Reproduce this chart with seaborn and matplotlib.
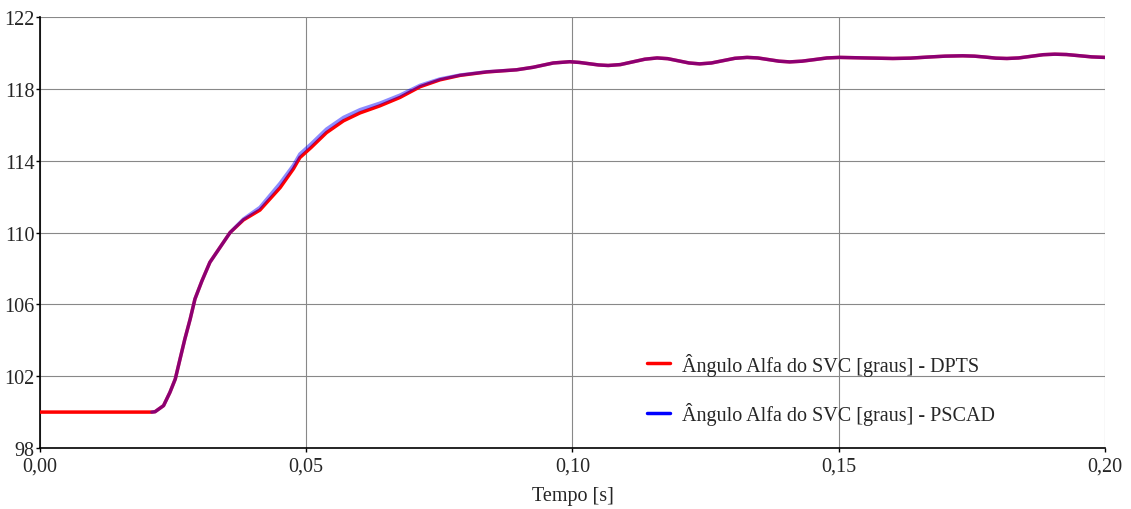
import numpy as np
import pandas as pd
import seaborn as sns
import matplotlib.pyplot as plt

# Data (time in s, angle in degrees)
t_pscad = [0.0210, 0.0216, 0.0232, 0.0244, 0.0254, 0.0263, 0.0272, 0.0282, 0.0291,
           0.0304, 0.0319, 0.0338, 0.0357, 0.0382, 0.0413, 0.0451, 0.0476, 0.0488,
           0.0509, 0.0538, 0.0570, 0.0601, 0.0638, 0.0676, 0.0714, 0.0751, 0.0789,
           0.0839, 0.0895, 0.0926, 0.0964, 0.0995, 0.1013, 0.1031, 0.1049, 0.1067,
           0.1090, 0.1113, 0.1136, 0.1159, 0.1179, 0.1199, 0.1219, 0.1239, 0.1261,
           0.1283, 0.1305, 0.1328, 0.1348, 0.1368, 0.1388, 0.1408, 0.1431, 0.1455,
           0.1478, 0.1502, 0.1550, 0.1602, 0.1635, 0.1668, 0.1700, 0.1733, 0.1755,
           0.1775, 0.1795, 0.1816, 0.1838, 0.1861, 0.1884, 0.1906, 0.1928, 0.1950,
           0.1975, 0.2000]
alpha_pscad = [100.0, 100.02, 100.36, 101.1, 101.84, 102.96, 104.07, 105.18, 106.3,
               107.3, 108.34, 109.17, 110.0, 110.75, 111.4, 112.75, 113.75, 114.37,
               114.93, 115.76, 116.41, 116.84, 117.2, 117.65, 118.2, 118.55, 118.77,
               118.95, 119.06, 119.2, 119.44, 119.51, 119.47, 119.40, 119.33, 119.30,
               119.35, 119.50, 119.65, 119.72, 119.68, 119.56, 119.44, 119.39, 119.44,
               119.57, 119.70, 119.75, 119.72, 119.63, 119.54, 119.50, 119.54, 119.63,
               119.72, 119.75, 119.72, 119.69, 119.71, 119.77, 119.82, 119.84, 119.82,
               119.77, 119.71, 119.69, 119.72, 119.81, 119.90, 119.93, 119.91, 119.85,
               119.78, 119.75]

t_dpts = [0.0] + t_pscad
alpha_dpts = [100.0, 100.0, 100.02, 100.36, 101.1, 101.84, 102.96, 104.07, 105.18,
              106.3, 107.3, 108.34, 109.17, 110.0, 110.7, 111.25, 112.5, 113.55,
              114.17, 114.73, 115.56, 116.22, 116.66, 117.05, 117.52, 118.12, 118.5,
              118.75, 118.94, 119.06, 119.2, 119.44, 119.51, 119.47, 119.40, 119.33,
              119.30, 119.35, 119.50, 119.65, 119.72, 119.68, 119.56, 119.44, 119.39,
              119.44, 119.57, 119.70, 119.75, 119.72, 119.63, 119.54, 119.50, 119.54,
              119.63, 119.72, 119.75, 119.72, 119.69, 119.71, 119.77, 119.82, 119.84,
              119.82, 119.77, 119.71, 119.69, 119.72, 119.81, 119.90, 119.93, 119.91,
              119.85, 119.78, 119.75]

x_ticks = [0.0, 0.05, 0.10, 0.15, 0.20]
x_labels = ['0,00', '0,05', '0,10', '0,15', '0,20']
y_ticks = [98, 102, 106, 110, 114, 118, 122]

lbl_dpts = 'Ângulo Alfa do SVC [graus] - DPTS'
lbl_pscad = 'Ângulo Alfa do SVC [graus] - PSCAD'

df_dpts = pd.DataFrame({'t': t_dpts, 'alpha': alpha_dpts})
df_pscad = pd.DataFrame({'t': t_pscad, 'alpha': alpha_pscad})

sns.set_style('white')
plt.rcParams['font.family'] = ['Liberation Serif', 'DejaVu Serif']

fig = plt.figure(figsize=(11.31, 5.10), dpi=100)
ax = fig.add_axes([0.0354, 0.1196, 0.9415, 0.8451])

sns.lineplot(data=df_dpts, x='t', y='alpha', color='#ff0000', linewidth=2.5,
             label=lbl_dpts, ax=ax, zorder=3)
sns.lineplot(data=df_pscad, x='t', y='alpha', color='#0000ff', linewidth=2.5,
             alpha=0.45, label=lbl_pscad, ax=ax, zorder=4)

ax.set_xlim(0, 0.2)
ax.set_ylim(98, 122)
ax.set_xticks(x_ticks)
ax.set_xticklabels(x_labels)
ax.set_yticks(y_ticks)
ax.tick_params(axis='both', labelsize=14.5, length=3, width=1, direction='out',
               color='black', left=True, bottom=True)
ax.tick_params(axis='y', pad=1)
ax.tick_params(axis='x', pad=3)
ax.set_xlabel('Tempo [s]', fontsize=14.5, labelpad=8)
ax.set_ylabel('')

ax.grid(True, color='#888888', linewidth=0.8)
for s in ['top', 'right']:
    ax.spines[s].set_visible(False)
for s in ['left', 'bottom']:
    ax.spines[s].set_color('black')
    ax.spines[s].set_linewidth(1.2)

leg = ax.legend(loc='lower left', bbox_to_anchor=(0.553, 0.012), frameon=False,
                fontsize=14.5, labelspacing=1.3, handlelength=1.15,
                handletextpad=0.6)
for ln in leg.get_lines():
    ln.set_alpha(1)
    ln.set_linewidth(2.5)

fig.savefig('out.png', dpi=100)
